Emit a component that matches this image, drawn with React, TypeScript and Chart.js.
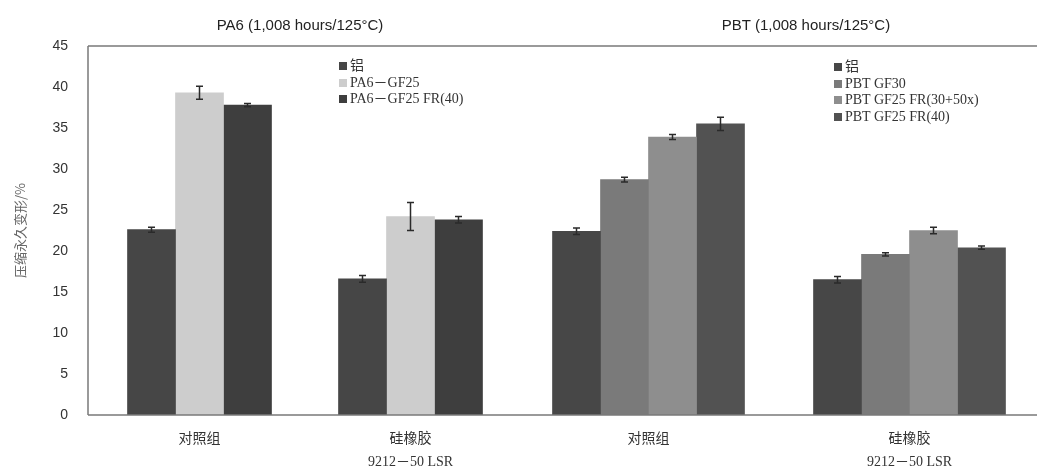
import React, { useEffect, useRef } from 'react';
import { Chart, registerables } from 'chart.js';

Chart.register(...registerables);

// ---------- data ----------
const paTitle = 'PA6 (1,008 hours/125°C)';
const pbtTitle = 'PBT (1,008 hours/125°C)';
const categories: (string | string[])[] = ['对照组', ['硅橡胶', '9212－50 LSR']];
const yTicks = [0, 5, 10, 15, 20, 25, 30, 35, 40, 45];
const yTitle = '压缩永久变形/%';

const paNames = ['铝', 'PA6－GF25', 'PA6－GF25 FR(40)'];
const paAl = [22.6, 16.6];
const paAlErr = [0.3, 0.4];
const paGF25 = [39.3, 24.2];
const paGF25Err = [0.8, 1.7];
const paFR40 = [37.8, 23.8];
const paFR40Err = [0.2, 0.4];

const pbtNames = ['铝', 'PBT GF30', 'PBT GF25 FR(30+50x)', 'PBT GF25 FR(40)'];
const pbtAl = [22.4, 16.5];
const pbtAlErr = [0.4, 0.4];
const pbtGF30 = [28.7, 19.6];
const pbtGF30Err = [0.3, 0.2];
const pbtFR3050 = [33.9, 22.5];
const pbtFR3050Err = [0.3, 0.4];
const pbtFR40 = [35.5, 20.4];
const pbtFR40Err = [0.8, 0.2];

const paColors = ['#464646', '#cdcdcd', '#3e3e3e'];
const pbtColors = ['#474747', '#7a7a7a', '#8e8e8e', '#525252'];

// ---------- style ----------
const SERIF = "'Liberation Serif', 'Noto Sans CJK SC', serif";
const SANS = "'Liberation Sans', Arial, sans-serif";
const AXIS_COLOR = '#7a7a7a';

const errorBarsPlugin = {
  id: 'errorBars',
  afterDatasetsDraw(chart: any) {
    const { ctx } = chart;
    const y = chart.scales.y;
    chart.data.datasets.forEach((ds: any, i: number) => {
      const meta = chart.getDatasetMeta(i);
      meta.data.forEach((bar: any, j: number) => {
        const v = ds.data[j];
        const e = ds.errors[j];
        const top = y.getPixelForValue(v + e);
        const bot = y.getPixelForValue(v - e);
        ctx.save();
        ctx.strokeStyle = '#2a2a2a';
        ctx.lineWidth = 1.5;
        ctx.beginPath();
        ctx.moveTo(bar.x, top);
        ctx.lineTo(bar.x, bot);
        ctx.moveTo(bar.x - 3.5, top);
        ctx.lineTo(bar.x + 3.5, top);
        ctx.moveTo(bar.x - 3.5, bot);
        ctx.lineTo(bar.x + 3.5, bot);
        ctx.stroke();
        ctx.restore();
      });
    });
  },
};

const framePlugin = {
  id: 'frame',
  afterDatasetsDraw(chart: any, _args: any, opts: any) {
    const { ctx, chartArea } = chart;
    const left = chartArea.left - (opts.extendLeft || 0);
    ctx.save();
    ctx.strokeStyle = AXIS_COLOR;
    ctx.lineWidth = 1.5;
    ctx.beginPath();
    ctx.moveTo(left, chartArea.top);
    ctx.lineTo(chartArea.right, chartArea.top);
    ctx.moveTo(left, chartArea.bottom);
    ctx.lineTo(chartArea.right, chartArea.bottom);
    if (opts.drawLeft) {
      ctx.moveTo(left, chartArea.top);
      ctx.lineTo(left, chartArea.bottom);
    }
    ctx.stroke();
    ctx.restore();
  },
};

function makeConfig(
  values: number[][],
  errors: number[][],
  names: string[],
  colors: string[],
  withY: boolean,
  padLeft: number,
  extendLeft: number
): any {
  return {
    type: 'bar',
    data: {
      labels: categories,
      datasets: values.map((vals, i) => ({
        label: names[i],
        data: vals,
        errors: errors[i],
        backgroundColor: colors[i],
        borderWidth: 0,
        barThickness: 48,
      })),
    },
    plugins: [errorBarsPlugin, framePlugin],
    options: {
      responsive: false,
      animation: false,
      layout: { padding: { top: 46, left: padLeft, right: 0, bottom: 0 } },
      plugins: {
        legend: { display: false },
        tooltip: { enabled: false },
        frame: { extendLeft, drawLeft: withY },
      },
      scales: {
        x: {
          grid: { display: false, drawTicks: false },
          border: { display: false },
          ticks: {
            padding: 13,
            color: '#333',
            autoSkip: false,
            maxRotation: 0,
            font: { family: SERIF, size: 14, lineHeight: 1.65 },
          },
          afterFit: (s: any) => {
            s.height = 53;
          },
        },
        y: {
          display: withY,
          min: 0,
          max: 45,
          afterBuildTicks: (s: any) => {
            s.ticks = yTicks.map((v) => ({ value: v }));
          },
          grid: { display: false, drawTicks: false },
          border: { display: false },
          ticks: {
            padding: 26,
            color: '#333',
            font: { family: SANS, size: 14 },
          },
          title: {
            display: true,
            text: yTitle,
            color: '#666',
            padding: { top: 12, bottom: 0 },
            font: { family: "'Noto Sans CJK SC', sans-serif", size: 13 },
          },
          afterFit: (s: any) => {
            s.width = withY ? 94 : 0;
          },
        },
      },
    },
  };
}

function Legend({ names, colors, left, top }: { names: string[]; colors: string[]; left: number; top: number }) {
  return (
    <div style={{ position: 'absolute', left, top, fontFamily: SERIF, fontSize: 14, color: '#333', lineHeight: '16.5px' }}>
      {names.map((n, i) => (
        <div key={i} style={{ display: 'flex', alignItems: 'center', whiteSpace: 'nowrap' }}>
          <span style={{ display: 'inline-block', width: 8, height: 8, background: colors[i], marginRight: 3 }} />
          <span>{n}</span>
        </div>
      ))}
    </div>
  );
}

export default function App() {
  const leftRef = useRef<HTMLCanvasElement>(null);
  const rightRef = useRef<HTMLCanvasElement>(null);

  useEffect(() => {
    const c1 = new Chart(
      leftRef.current!,
      makeConfig([paAl, paGF25, paFR40], [paAlErr, paGF25Err, paFR40Err], paNames, paColors, true, 0, 6)
    );
    const c2 = new Chart(
      rightRef.current!,
      makeConfig(
        [pbtAl, pbtGF30, pbtFR3050, pbtFR40],
        [pbtAlErr, pbtGF30Err, pbtFR3050Err, pbtFR40Err],
        pbtNames,
        pbtColors,
        false,
        2,
        2
      )
    );
    return () => {
      c1.destroy();
      c2.destroy();
    };
  }, []);

  const titleStyle: React.CSSProperties = {
    position: 'absolute',
    top: 16,
    width: 300,
    textAlign: 'center',
    fontFamily: SANS,
    fontSize: 15,
    color: '#222',
    whiteSpace: 'nowrap',
  };

  return (
    <div style={{ position: 'absolute', left: 0, top: 0, width: 1037, height: 468, overflow: 'hidden', background: '#fff' }}>
      <canvas ref={leftRef} width={516} height={468} style={{ position: 'absolute', left: 0, top: 0, width: 516, height: 468 }} />
      <canvas ref={rightRef} width={524} height={468} style={{ position: 'absolute', left: 516, top: 0, width: 524, height: 468 }} />
      <div style={{ ...titleStyle, left: 300 - 150 }}>{paTitle}</div>
      <div style={{ ...titleStyle, left: 806 - 150 }}>{pbtTitle}</div>
      <Legend names={paNames} colors={paColors} left={339} top={58} />
      <Legend names={pbtNames} colors={pbtColors} left={834} top={59} />
    </div>
  );
}
